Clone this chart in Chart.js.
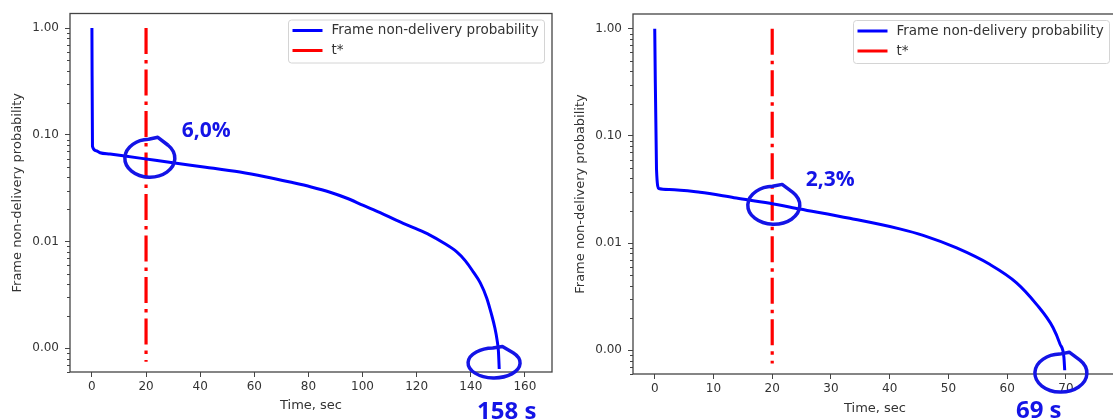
<!DOCTYPE html>
<html>
<head>
<meta charset="utf-8">
<script src="https://cdn.jsdelivr.net/npm/chart.js@4.4.0/dist/chart.umd.min.js"></script>
<style>
  html, body { margin: 0; padding: 0; background: #fff; }
  body { width: 1113px; height: 419px; overflow: hidden; position: relative; }
  #left { position: absolute; left: 0; top: 0; }
  #right { position: absolute; left: 560px; top: 0; }
</style>
</head>
<body>
<canvas id="left" width="560" height="419"></canvas>
<canvas id="right" width="580" height="419"></canvas>
<script>
// --- data ---
const leftTime = [0, 0.2, 1.5, 3, 6.7, 17.7, 29.9, 42, 54.7, 64, 73.2, 81, 88, 94, 100.3, 106.5, 112.6, 118.8, 124.9, 130, 134.8, 138, 140.9, 143.5, 145.9, 147.6, 148.9, 149.7, 150.2, 150.5];
const leftProb = [1.0, 0.078, 0.071, 0.068, 0.066, 0.0605, 0.0547, 0.0498, 0.0448, 0.0405, 0.0361, 0.0325, 0.029, 0.0256, 0.0218, 0.0187, 0.0158, 0.0135, 0.0115, 0.0097, 0.008, 0.0066, 0.0052, 0.0041, 0.00295, 0.0021, 0.00155, 0.0012, 0.00094, 0.00064];

const rightTime = [0, 0.3, 0.7, 2.5, 7.7, 13.5, 19.6, 24.7, 33.2, 41.7, 45.7, 51.4, 57.1, 61.6, 65.0, 67.8, 69.0, 69.66, 69.8];
const rightProb = [1.0, 0.049, 0.0323, 0.0316, 0.0297, 0.0265, 0.0235, 0.0208, 0.017, 0.01356, 0.0118, 0.009, 0.0063, 0.00426, 0.00268, 0.00163, 0.00114, 0.00086, 0.00065];

const tStar = 20;
const tStarSpan = [1.0, 0.00075];

const probTicks = [1, 0.1, 0.01, 0.001];
const leftTimeTicks = [0, 20, 40, 60, 80, 100, 120, 140, 160];
const rightTimeTicks = [0, 10, 20, 30, 40, 50, 60, 70];
const seriesLabels = ['Frame non-delivery probability', 't*'];

// --- styles ---
const INK = '#333';
const AXIS = '#444';
const MARK = '#1414e6';
const FONT = 'DejaVu Sans';

// frame, minor log ticks, legend box and the hand-drawn marks
const markup = {
    id: 'markup',
    afterDraw(chart, args, opts) {
        const ctx = chart.ctx;
        const a = chart.chartArea;
        const sx = chart.scales.x, sy = chart.scales.y;
        ctx.save();

        // minor ticks on the log axis
        ctx.strokeStyle = AXIS;
        ctx.lineWidth = 1;
        for (let e = -4; e <= 0; e++) {
            for (let m = 2; m <= 9; m++) {
                const v = m * Math.pow(10, e);
                if (v < sy.min || v > sy.max) continue;
                const y = Math.round(sy.getPixelForValue(v)) + 0.5;
                ctx.beginPath();
                ctx.moveTo(a.left - 3, y);
                ctx.lineTo(a.left, y);
                ctx.stroke();
            }
        }

        // plot frame
        ctx.lineWidth = 1.3;
        ctx.strokeRect(a.left, a.top, a.right - a.left, a.bottom - a.top);

        // legend in the upper right corner
        const w = 256, h = 43;
        const x0 = a.right - 7.5 - w, y0 = a.top + 6.5;
        ctx.beginPath();
        ctx.roundRect(x0, y0, w, h, 3);
        ctx.fillStyle = 'rgba(255,255,255,0.85)';
        ctx.fill();
        ctx.strokeStyle = '#d4d4d4';
        ctx.lineWidth = 1;
        ctx.stroke();
        ctx.font = '13.5px "' + FONT + '"';
        ctx.textBaseline = 'middle';
        chart.data.datasets.forEach((ds, i) => {
            const y = y0 + 10.5 + i * 20;
            ctx.strokeStyle = ds.borderColor;
            ctx.lineWidth = 3;
            ctx.beginPath();
            ctx.moveTo(x0 + 4, y);
            ctx.lineTo(x0 + 34, y);
            ctx.stroke();
            ctx.fillStyle = INK;
            ctx.fillText(ds.label, x0 + 43, y);
        });

        // circled points + notes
        ctx.textBaseline = 'alphabetic';
        (opts.notes || []).forEach(n => {
            const cx = sx.getPixelForValue(n.x), cy = sy.getPixelForValue(n.y);
            ctx.strokeStyle = MARK;
            ctx.lineWidth = 3.5;
            ctx.lineJoin = 'round';
            ctx.beginPath();
            ctx.ellipse(cx, cy, n.rx, n.ry, 0, -0.75, 1.5 * Math.PI - 0.05);
            ctx.lineTo(cx + n.rx * 0.32, cy - n.ry * 1.1);
            ctx.lineTo(cx + n.rx * Math.cos(-0.75), cy + n.ry * Math.sin(-0.75));
            ctx.stroke();
            ctx.fillStyle = MARK;
            ctx.font = 'bold ' + n.size + 'px "Open Sans"';
            ctx.fillText(n.text, cx + n.dx, cy + n.dy);
        });
        ctx.restore();
    }
};

function makeChart(id, time, prob, cfg) {
    const tickFont = { family: FONT, size: 12 };
    const titleFont = { family: FONT, size: 13 };
    return new Chart(document.getElementById(id), {
        type: 'line',
        data: {
            datasets: [
                {
                    label: seriesLabels[0],
                    data: time.map((t, i) => ({ x: t, y: prob[i] })),
                    borderColor: '#0000ff',
                    borderWidth: 3,
                    pointRadius: 0,
                    cubicInterpolationMode: 'monotone',
                    fill: false
                },
                {
                    label: seriesLabels[1],
                    data: tStarSpan.map(p => ({ x: tStar, y: p })),
                    borderColor: '#ff0000',
                    borderWidth: 3.2,
                    borderDash: [26, 6, 3.5, 6],
                    pointRadius: 0,
                    fill: false
                }
            ]
        },
        options: {
            responsive: false,
            animation: false,
            devicePixelRatio: 1,
            layout: { padding: { left: 0, top: cfg.top, right: cfg.padRight, bottom: 0 } },
            plugins: {
                legend: { display: false },
                tooltip: { enabled: false },
                markup: { notes: cfg.notes }
            },
            scales: {
                x: {
                    type: 'linear',
                    min: cfg.xMin,
                    max: cfg.xMax,
                    afterBuildTicks: s => { s.ticks = cfg.xTicks.map(v => ({ value: v })); },
                    afterFit: s => { s.height = cfg.xHeight; },
                    grid: { drawOnChartArea: false, tickLength: 5, color: AXIS },
                    border: { display: false },
                    ticks: { color: INK, font: tickFont, padding: 3, maxRotation: 0 },
                    title: { display: true, text: 'Time, sec', color: INK, font: titleFont, padding: { top: 0, bottom: cfg.xTitlePad } }
                },
                y: {
                    type: 'logarithmic',
                    min: 0.00063,
                    max: 1.37,
                    afterBuildTicks: s => { s.ticks = probTicks.map(v => ({ value: v })); },
                    afterFit: s => { s.width = cfg.yWidth; },
                    grid: { drawOnChartArea: false, tickLength: 5, color: AXIS },
                    border: { display: false },
                    ticks: { color: INK, font: tickFont, padding: 6, callback: v => Number(v).toFixed(2) },
                    title: { display: true, text: 'Frame non-delivery probability', color: INK, font: titleFont, padding: { top: cfg.yTitlePad, bottom: 0 } }
                }
            }
        },
        plugins: [markup]
    });
}

makeChart('left', leftTime, leftProb, {
    xMin: -8.1, xMax: 170, xTicks: leftTimeTicks,
    top: 13.5, padRight: 8, yWidth: 70, xHeight: 47, yTitlePad: 9.5, xTitlePad: 6,
    notes: [
        { x: 21.4, y: 0.0604, rx: 25, ry: 19, text: '6,0%', dx: 32, dy: -21, size: 21 },
        { x: 148.6, y: 0.00073, rx: 26, ry: 15, text: '158 s', dx: -17, dy: 56, size: 24 }
    ]
});

makeChart('right', rightTime, rightProb, {
    xMin: -3.7, xMax: 78.7, xTicks: rightTimeTicks,
    top: 14, padRight: 23, yWidth: 73, xHeight: 45, yTitlePad: 12.5, xTitlePad: 3,
    notes: [
        { x: 20.27, y: 0.0225, rx: 26, ry: 19, text: '2,3%', dx: 32, dy: -19, size: 21 },
        { x: 69.15, y: 0.000612, rx: 26, ry: 19, text: '69 s', dx: -45, dy: 45, size: 24 }
    ]
});
</script>
</body>
</html>
